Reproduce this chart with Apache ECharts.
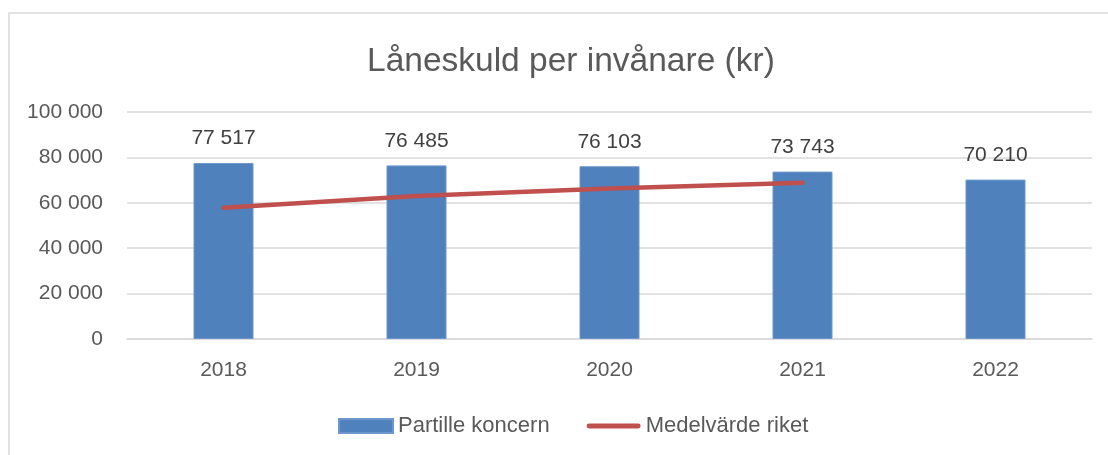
<!DOCTYPE html>
<html>
<head>
<meta charset="utf-8">
<script src="https://cdn.jsdelivr.net/npm/echarts@6/dist/echarts.min.js"></script>
<style>
html,body{margin:0;padding:0;background:#fff;}
#chart{width:1108px;height:455px;}
</style>
</head>
<body>
<div id="chart"></div>
<script>
const titleText = 'Låneskuld per invånare (kr)';
const categories = ['2018', '2019', '2020', '2021', '2022'];
const seriesNames = ['Partille koncern', 'Medelvärde riket'];
const partilleValues = [77517, 76485, 76103, 73743, 70210];
const rikeValues = [57800, 63000, 66300, 68800, null];
const yTicks = [0, 20000, 40000, 60000, 80000, 100000];

const fmt = v => String(Math.round(v)).replace(/\B(?=(\d{3})+(?!\d))/g, ' ');
const font = 'Liberation Sans';
const textColor = '#595959';

const chart = echarts.init(document.getElementById('chart'));
chart.setOption({
  animation: false,
  backgroundColor: '#fff',
  textStyle: { fontFamily: font },
  graphic: [{
    type: 'rect',
    shape: { x: 9, y: 13, width: 1200, height: 1000 },
    style: { fill: 'none', stroke: '#d9d9d9', lineWidth: 1.5 },
    silent: true
  }],
  title: {
    text: titleText,
    left: 362,
    top: 40,
    textStyle: { fontFamily: font, fontSize: 33.5, fontWeight: 'normal', color: textColor }
  },
  legend: {
    bottom: 13,
    left: 333,
    itemGap: 37,
    itemWidth: 54,
    itemHeight: 14,
    textStyle: { fontFamily: font, fontSize: 22, color: textColor },
    data: [
      { name: seriesNames[0], icon: 'rect' },
      { name: seriesNames[1], icon: 'path://M2.5,0 L53.5,0 A2.5,2.5 0 0 1 53.5,5 L2.5,5 A2.5,2.5 0 0 1 2.5,0 Z' }
    ]
  },
  grid: { left: 127, right: 16, top: 112, bottom: 116, containLabel: false },
  xAxis: {
    type: 'category',
    data: categories,
    axisLine: { show: true, lineStyle: { color: '#d9d9d9', width: 1.5 } },
    axisTick: { show: false },
    axisLabel: { fontFamily: font, fontSize: 21, color: textColor, margin: 21 }
  },
  yAxis: {
    type: 'value',
    min: yTicks[0],
    max: yTicks[yTicks.length - 1],
    interval: yTicks[1] - yTicks[0],
    axisLine: { show: false },
    axisTick: { show: false },
    splitLine: { lineStyle: { color: '#d9d9d9', width: 1.5 } },
    axisLabel: { fontFamily: font, fontSize: 21, color: textColor, margin: 24, formatter: fmt }
  },
  series: [
    {
      name: seriesNames[0],
      type: 'bar',
      data: partilleValues,
      barWidth: 60,
      itemStyle: { color: '#4f81bd', borderColor: '#6d97cc', borderWidth: 1 },
      label: {
        show: true,
        position: 'top',
        distance: 14,
        fontFamily: font,
        fontSize: 21,
        color: '#404040',
        formatter: p => fmt(p.value)
      }
    },
    {
      name: seriesNames[1],
      type: 'line',
      data: rikeValues,
      symbol: 'none',
      connectNulls: false,
      lineStyle: { color: '#c0504d', width: 4.5, cap: 'round' },
      itemStyle: { color: '#c0504d' }
    }
  ]
});
</script>
</body>
</html>
